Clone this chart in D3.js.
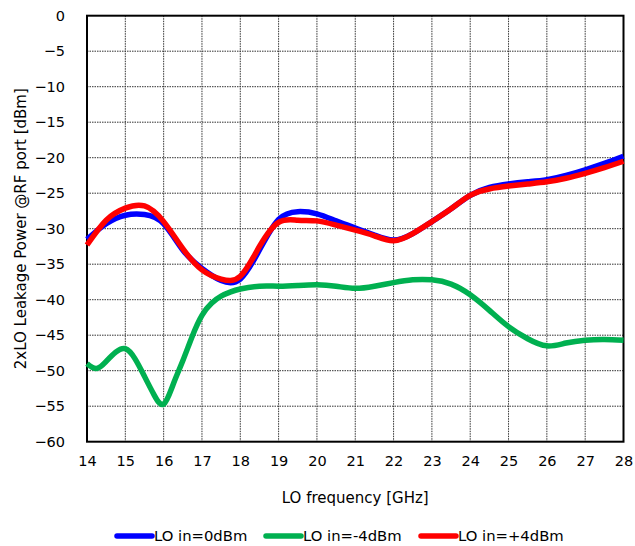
<!DOCTYPE html>
<html><head><meta charset="utf-8">
<script src="https://cdn.jsdelivr.net/npm/d3@7"></script>
<style>body{margin:0;background:#fff}svg{display:block}text{font-family:"DejaVu Sans",Verdana,sans-serif;fill:#000}</style>
</head><body><svg id="c" width="635" height="546"></svg>
<script>
const xTicks = [14,15,16,17,18,19,20,21,22,23,24,25,26,27,28];
const yTicks = [0,-5,-10,-15,-20,-25,-30,-35,-40,-45,-50,-55,-60];
const seriesNames = ["LO in=0dBm","LO in=-4dBm","LO in=+4dBm"];
const seriesColors = ["#0000ff","#00b050","#ff0000"];
const freq0 = [14,14.5,15,15.5,16,16.5,17,17.5,18,18.5,19,19.5,20,20.5,21,21.5,22,22.5,23,23.5,24,24.5,25,25.5,26,26.5,27,27.5,28];
const lo0 = [-31.5,-29.3,-28.1,-28.0,-29.3,-33.0,-35.6,-37.3,-37.1,-33.0,-28.7,-27.6,-27.9,-28.9,-29.9,-30.9,-31.6,-30.7,-29.0,-27.2,-25.3,-24.2,-23.7,-23.4,-23.1,-22.5,-21.7,-20.8,-19.8];
const freqM4 = [14,14.25,14.5,14.75,15,15.25,15.5,15.75,16,16.25,16.5,16.75,17,17.25,17.5,17.75,18,18.5,19,19.5,20,20.5,21,21.5,22,22.5,23,23.5,24,24.5,25,25.5,26,26.5,27,27.5,28];
const loM4 = [-49.0,-49.7,-48.7,-47.4,-46.9,-48.3,-50.8,-53.4,-54.7,-51.9,-48.6,-45.1,-42.2,-40.5,-39.5,-38.9,-38.5,-38.1,-38.1,-38.0,-37.9,-38.1,-38.4,-38.1,-37.6,-37.2,-37.2,-37.8,-39.3,-41.5,-43.8,-45.5,-46.5,-46.1,-45.7,-45.6,-45.7];
const freqP4 = [14,14.5,15,15.5,16,16.5,17,17.5,18,18.5,19,19.5,20,20.5,21,21.5,22,22.5,23,23.5,24,24.5,25,25.5,26,26.5,27,27.5,28];
const loP4 = [-32.3,-28.8,-27.1,-26.8,-29.0,-32.8,-35.8,-37.1,-36.7,-32.5,-29.1,-28.8,-28.9,-29.5,-30.2,-31.0,-31.7,-30.7,-29.0,-27.2,-25.3,-24.4,-24.0,-23.7,-23.4,-22.9,-22.2,-21.4,-20.5];

const svg = d3.select("#c");
const L=87, R=623.5, T=15.7, B=441.7;
const x = d3.scaleLinear().domain([14,28]).range([L,R]);
const y = d3.scaleLinear().domain([-60,0]).range([B,T]);

// grid
const g = svg.append("g");
g.selectAll(".vx").data(xTicks.slice(1,-1)).join("line")
  .attr("x1",d=>x(d)).attr("x2",d=>x(d)).attr("y1",T).attr("y2",B)
  .attr("stroke","#333").attr("stroke-width",1).attr("stroke-dasharray","1.5,1");
g.selectAll(".hy").data(yTicks.slice(1,-1)).join("line")
  .attr("y1",d=>y(d)).attr("y2",d=>y(d)).attr("x1",L).attr("x2",R)
  .attr("stroke","#333").attr("stroke-width",1).attr("stroke-dasharray","1.5,1");

// axes labels
const xAxis = d3.axisBottom(x).tickValues(xTicks).tickSize(0).tickPadding(14);
const xa = svg.append("g").attr("transform",`translate(0,${B})`).call(xAxis);
xa.select(".domain").remove();
xa.selectAll("text").attr("font-size","14.5px").attr("font-family","DejaVu Sans");
const yAxis = d3.axisLeft(y).tickValues(yTicks).tickSize(0).tickPadding(22);
const ya = svg.append("g").attr("transform",`translate(${L},0)`).call(yAxis);
ya.select(".domain").remove();
ya.selectAll("text").attr("font-size","14.5px").attr("font-family","DejaVu Sans");

// frame
svg.append("rect").attr("x",L).attr("y",T).attr("width",R-L).attr("height",B-T)
  .attr("fill","none").attr("stroke","#000").attr("stroke-width",2);

// series
const line = d3.line().x(d=>x(d[0])).y(d=>y(d[1])).curve(d3.curveNatural);
const data = [d3.zip(freq0,lo0), d3.zip(freqM4,loM4), d3.zip(freqP4,loP4)];
data.forEach((s,i)=>{
  svg.append("path").datum(s).attr("d",line).attr("fill","none")
    .attr("stroke",seriesColors[i]).attr("stroke-width",5.5)
    .attr("stroke-linejoin","round").attr("stroke-linecap","butt");
});

// titles
svg.append("text").attr("x",(L+R)/2).attr("y",503).attr("text-anchor","middle")
  .attr("font-size","15px").text("LO frequency [GHz]");
svg.append("text").attr("transform",`translate(26,${(T+B)/2}) rotate(-90)`)
  .attr("text-anchor","middle").attr("font-size","15px").text("2xLO Leakage Power @RF port [dBm]");

// legend
const legX = [117,266,421];
const lg = svg.append("g");
seriesNames.forEach((n,i)=>{
  lg.append("line").attr("x1",legX[i]).attr("x2",legX[i]+35).attr("y1",536).attr("y2",536)
    .attr("stroke",seriesColors[i]).attr("stroke-width",5.5).attr("stroke-linecap","round");
  lg.append("text").attr("x",legX[i]+37).attr("y",541).attr("font-size","14.8px").text(n);
});
</script></body></html>
